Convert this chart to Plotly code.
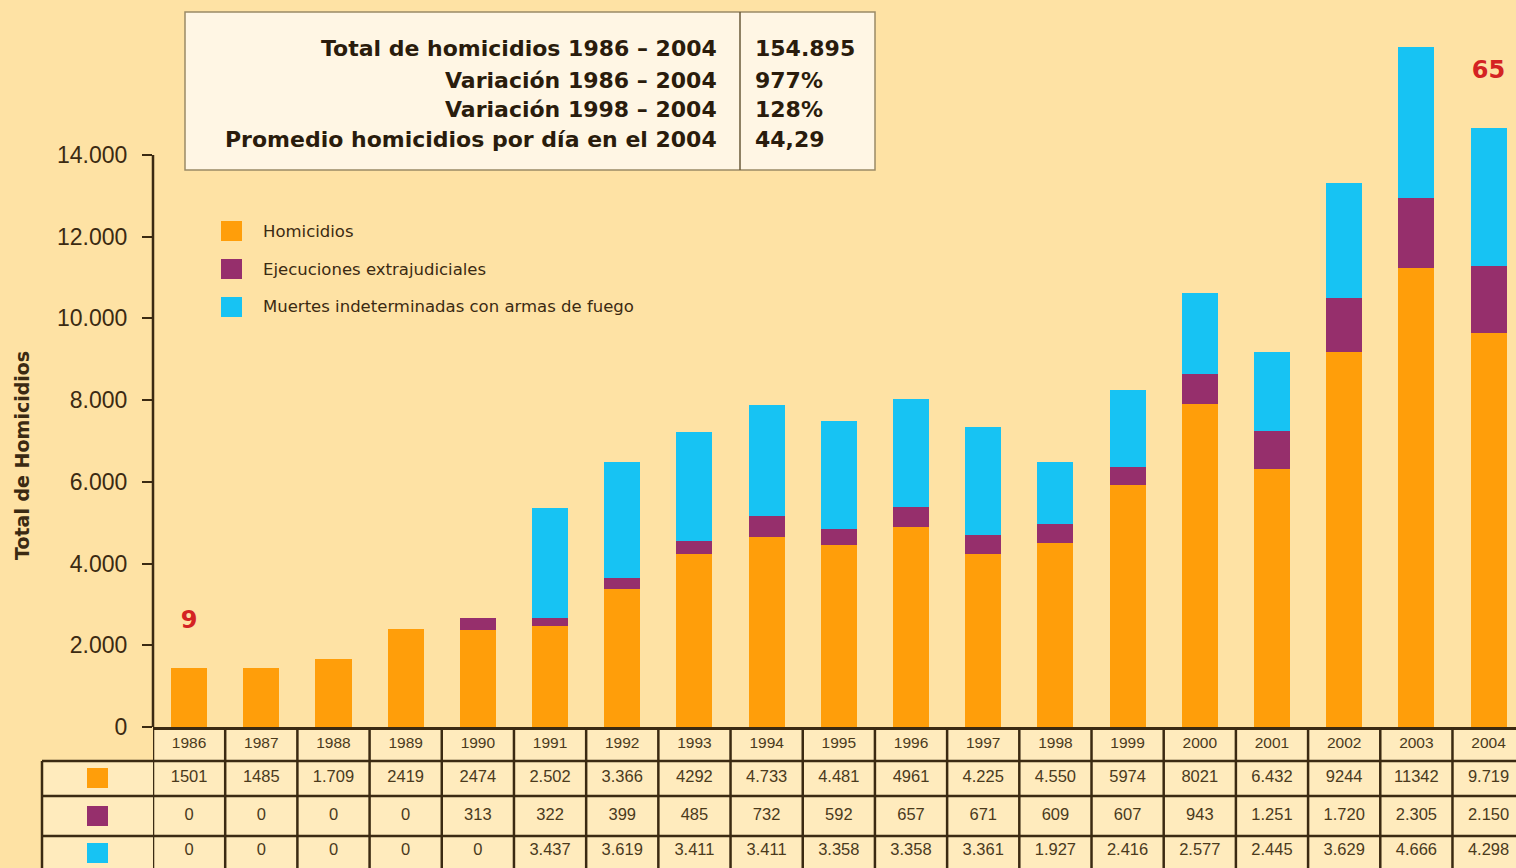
import plotly.graph_objects as go

# --- data ---
years = [str(y) for y in range(1986, 2005)]

# bar segment heights as drawn in the chart
homicidios_bar = [1440, 1440, 1660, 2400, 2370, 2470, 3380, 4230, 4650, 4450,
                  4900, 4230, 4500, 5920, 7900, 6310, 9180, 11230, 9640]
ejecuciones_bar = [0, 0, 0, 0, 290, 200, 270, 320, 510, 390,
                   490, 470, 470, 440, 730, 930, 1320, 1710, 1640]
indeterminadas_bar = [0, 0, 0, 0, 0, 2690, 2840, 2670, 2720, 2640,
                      2640, 2640, 1520, 1890, 1980, 1930, 2810, 3700, 3380]

# values printed in the table under the chart
homicidios_tab = ["1501", "1485", "1.709", "2419", "2474", "2.502", "3.366", "4292", "4.733", "4.481",
                  "4961", "4.225", "4.550", "5974", "8021", "6.432", "9244", "11342", "9.719"]
ejecuciones_tab = ["0", "0", "0", "0", "313", "322", "399", "485", "732", "592",
                   "657", "671", "609", "607", "943", "1.251", "1.720", "2.305", "2.150"]
indeterminadas_tab = ["0", "0", "0", "0", "0", "3.437", "3.619", "3.411", "3.411", "3.358",
                      "3.358", "3.361", "1.927", "2.416", "2.577", "2.445", "3.629", "4.666", "4.298"]

series_names = ["Homicidios", "Ejecuciones extrajudiciales",
                "Muertes indeterminadas con armas de fuego"]

info_labels = ["Total de homicidios 1986 – 2004", "Variación 1986 – 2004",
               "Variación 1998 – 2004", "Promedio homicidios por día en el 2004"]
info_values = ["154.895", "977%", "128%", "44,29"]

y_ticks = [0, 2000, 4000, 6000, 8000, 10000, 12000, 14000]

# red markers over first and last year
marker_labels = ["9", "65"]
marker_y = [2570, 16030]

# --- styling ---
W, H = 1516, 868
BG = "#FEE2A4"
CELL = "#FFEBBD"
DARK = "#3B2A12"
ORANGE = "#FF9E0A"
PURPLE = "#962F6C"
CYAN = "#17C3F3"
RED = "#D42323"
colors = [ORANGE, PURPLE, CYAN]


def px(x):
    return x / W


def py(y):
    return 1 - y / H


AXIS_Y = 727           # pixel row of the zero line
PPK = 40.86            # pixels per 1000 homicides
y_top = AXIS_Y / PPK * 1000

fig = go.Figure()

for name, vals, col in zip(series_names,
                           [homicidios_bar, ejecuciones_bar, indeterminadas_bar], colors):
    fig.add_trace(go.Bar(x=years, y=vals, name=name, marker_color=col,
                         marker_line_width=0, width=0.5, showlegend=False))

# red labels over 1986 and 2004
fig.add_trace(go.Scatter(x=[years[0], years[-1]], y=marker_y, mode="text", text=marker_labels,
                         texttemplate="<b>%{text}</b>",
                         textfont=dict(family="DejaVu Sans", size=24, color=RED),
                         showlegend=False, hoverinfo="skip", cliponaxis=False))

# table text, row positions in pixels below the zero line
row_y = [17, 51, 89, 124]
fig.add_trace(go.Scatter(x=years, y=[row_y[0]] * len(years), yaxis="y2", mode="text",
                         text=years, textfont=dict(family="Liberation Sans", size=15.5, color="#4A3A1C"),
                         showlegend=False, hoverinfo="skip"))
for r, vals in zip(row_y[1:], [homicidios_tab, ejecuciones_tab, indeterminadas_tab]):
    fig.add_trace(go.Scatter(x=years, y=[r] * len(years), yaxis="y2", mode="text",
                             text=vals, textfont=dict(family="Liberation Sans", size=16.5, color="#4A3A1C"),
                             showlegend=False, hoverinfo="skip"))

shapes = []
# table background
shapes.append(dict(type="rect", xref="paper", yref="paper", x0=px(153), x1=1,
                   y0=0, y1=py(AXIS_Y), fillcolor=CELL, line_width=0, layer="below"))
shapes.append(dict(type="rect", xref="paper", yref="paper", x0=px(42), x1=px(153),
                   y0=0, y1=py(761), fillcolor=CELL, line_width=0, layer="below"))
# horizontal table lines
for yl in [761, 796, 836]:
    shapes.append(dict(type="line", xref="paper", yref="paper", x0=px(42), x1=1,
                       y0=py(yl), y1=py(yl), line=dict(color=DARK, width=2.5)))
# vertical table lines
shapes.append(dict(type="line", xref="paper", yref="paper", x0=px(42), x1=px(42),
                   y0=0, y1=py(761), line=dict(color=DARK, width=2.5)))
for i in range(len(years)):
    shapes.append(dict(type="line", xref="x", yref="paper", x0=i - 0.5, x1=i - 0.5,
                       y0=0, y1=py(AXIS_Y), line=dict(color=DARK, width=2.5)))
# y axis line (0 to 14000)
shapes.append(dict(type="line", xref="paper", yref="y", x0=px(153), x1=px(153),
                   y0=0, y1=14000, line=dict(color=DARK, width=2.5)))
# table squares
for yc, col in zip([778, 816, 853], colors):
    shapes.append(dict(type="rect", xref="paper", yref="paper", x0=px(87), x1=px(108),
                       y0=py(yc + 10), y1=py(yc - 10), fillcolor=col, line_width=0))
# legend squares
for yc, col in zip([231, 269, 307], colors):
    shapes.append(dict(type="rect", xref="paper", yref="paper", x0=px(221), x1=px(242),
                       y0=py(yc + 10), y1=py(yc - 10), fillcolor=col, line_width=0))
# info box
shapes.append(dict(type="rect", xref="paper", yref="paper", x0=px(185), x1=px(875),
                   y0=py(170), y1=py(12), fillcolor="#FFF6E4",
                   line=dict(color="#9A8A66", width=1.5)))
shapes.append(dict(type="line", xref="paper", yref="paper", x0=px(740), x1=px(740),
                   y0=py(170), y1=py(12), line=dict(color="#6A5A3A", width=1.5)))

annotations = []
for yc, name in zip([231, 269, 307], series_names):
    annotations.append(dict(xref="paper", yref="paper", x=px(261), y=py(yc), text=name,
                            showarrow=False, xanchor="left", yanchor="middle",
                            font=dict(family="DejaVu Sans", size=16.5, color=DARK)))
for yc, lab, val in zip([49, 80, 110, 140], info_labels, info_values):
    annotations.append(dict(xref="paper", yref="paper", x=px(719), y=py(yc), text=f"<b>{lab}</b>",
                            showarrow=False, xanchor="right", yanchor="middle",
                            font=dict(family="DejaVu Sans", size=22, color="#2A1C0C")))
    annotations.append(dict(xref="paper", yref="paper", x=px(753), y=py(yc), text=f"<b>{val}</b>",
                            showarrow=False, xanchor="left", yanchor="middle",
                            font=dict(family="DejaVu Sans", size=22, color="#2A1C0C")))
annotations.append(dict(xref="paper", yref="paper", x=px(22), y=py(456), text="<b>Total de Homicidios</b>",
                        textangle=-90, showarrow=False, xanchor="center", yanchor="middle",
                        font=dict(family="DejaVu Sans", size=19, color=DARK)))

fig.update_layout(
    width=W, height=H,
    margin=dict(l=0, r=0, t=0, b=0),
    paper_bgcolor=BG, plot_bgcolor="rgba(0,0,0,0)",
    separators=",.",
    barmode="stack",
    showlegend=False,
    xaxis=dict(domain=[px(153), 1], type="category", range=[-0.5, 18.38],
               showticklabels=False, ticks="", showgrid=False, zeroline=False,
               showline=True, linecolor=DARK, linewidth=3, anchor="y"),
    yaxis=dict(domain=[py(AXIS_Y), 1], range=[0, y_top], tickvals=y_ticks,
               tickformat=",d", ticks="outside", ticklen=10, tickwidth=2, tickcolor=DARK,
               ticklabelstandoff=10, automargin=False,
               showline=False, showgrid=False, zeroline=False,
               tickfont=dict(family="Liberation Sans", size=23, color=DARK)),
    yaxis2=dict(domain=[0, py(AXIS_Y)], range=[H - AXIS_Y, 0], anchor="x",
                showticklabels=False, showgrid=False, zeroline=False, ticks=""),
    shapes=shapes,
    annotations=annotations,
)

fig.write_html("out.html", config={"displayModeBar": False},
               post_script="document.documentElement.style.margin='0';"
                           "document.body.style.margin='0';"
                           "document.body.style.overflow='hidden';"
                           f"document.body.style.background='{BG}';"
                           "var d=document.getElementById('{plot_id}');"
                           "d.style.position='fixed';d.style.top='0';d.style.left='0';")
